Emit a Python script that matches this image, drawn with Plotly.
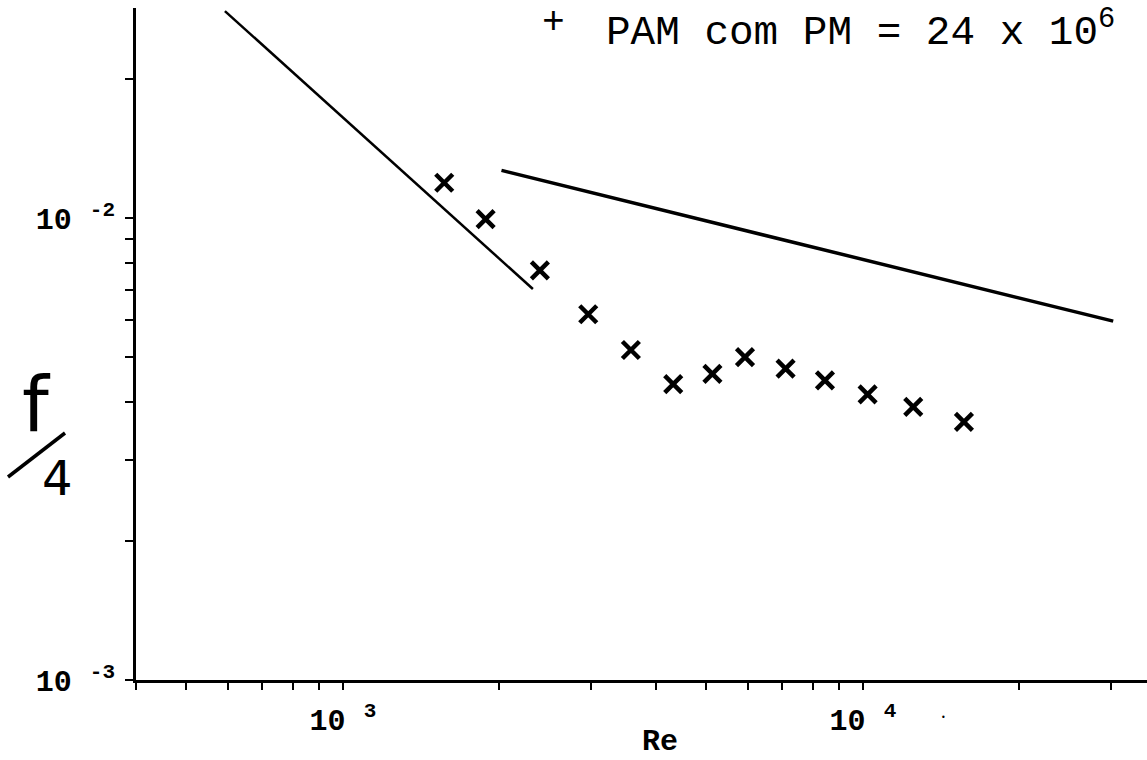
import numpy as np
import plotly.graph_objects as go

# ---- data ----
re_pts = [1566, 1881, 2392, 2963, 3579, 4317, 5135, 5932, 7100, 8452, 10210, 12495, 15640]
f4_pts = [0.01192, 0.00994, 0.00770, 0.00619, 0.00518, 0.00437, 0.00460,
          0.00500, 0.00472, 0.00445, 0.00415, 0.00390, 0.00362]

lam_re = [593, 2319]          # laminar line (f/4 = 16/Re)
lam_f4 = [0.02805, 0.00702]
turb_re = [2018, 30290]       # turbulent line
turb_f4 = [0.01268, 0.00598]

x_tickvals = [400, 500, 600, 700, 800, 900, 1000, 2000, 3000, 4000, 5000,
              6000, 7000, 8000, 9000, 10000, 20000, 30000, 40000]
x_ticktext = {1000: "<b>10 <sup>3</sup></b>", 10000: "<b>10 <sup>4</sup></b>"}
y_tickvals = [0.001, 0.002, 0.003, 0.004, 0.005, 0.006, 0.007, 0.008, 0.009, 0.01, 0.02]
y_ticktext = {0.001: "<b>10 <sup>-3</sup></b>", 0.01: "<b>10 <sup>-2</sup></b>"}

W, H = 1147, 760
L, R, T, B = 136, 0, 8, 80
pw, ph = W - L - R, H - T - B

def px(x):
    return (x - L) / pw

def py(y):
    return (H - B - y) / ph

fig = go.Figure()
fig.add_trace(go.Scatter(x=lam_re, y=lam_f4, mode="lines",
                         line=dict(color="black", width=2.5), showlegend=False))
fig.add_trace(go.Scatter(x=turb_re, y=turb_f4, mode="lines",
                         line=dict(color="black", width=3.5), showlegend=False))
fig.add_trace(go.Scatter(x=re_pts, y=f4_pts, mode="markers",
                         marker=dict(symbol="x-thin", size=17,
                                     line=dict(color="black", width=4.5)),
                         showlegend=False))

tickfont = dict(family="Liberation Mono", size=30, color="black")

fig.update_xaxes(type="log", range=[np.log10(400), np.log10(400) + pw / 520],
                 tickvals=x_tickvals,
                 ticktext=[x_ticktext.get(v, "") for v in x_tickvals],
                 ticks="outside", ticklen=7, tickwidth=2, tickcolor="black",
                 showline=True, linewidth=3, linecolor="black",
                 showgrid=False, zeroline=False, tickfont=tickfont,
                 ticklabelstandoff=4)
fig.update_yaxes(type="log", range=[-3, -3 + ph / 462],
                 tickvals=y_tickvals,
                 ticktext=[y_ticktext.get(v, "") for v in y_tickvals],
                 ticks="outside", ticklen=8, tickwidth=2, tickcolor="black",
                 showline=True, linewidth=3, linecolor="black",
                 showgrid=False, zeroline=False, tickfont=tickfont,
                 ticklabelstandoff=4)

def note(x, y, text, size, family="Liberation Mono", xanchor="center"):
    return dict(x=px(x), y=py(y), xref="paper", yref="paper", text=text,
                xanchor=xanchor, yanchor="middle", showarrow=False,
                font=dict(family=family, size=size, color="black"))

ann = [
    note(660, 742, "<b>Re</b>", 30),
    note(553, 22, "+", 38),
    note(604, 29, "PAM com PM = 24 x 10<sup>6</sup>", 41, xanchor="left"),
    note(36, 404, "f", 76, family="DejaVu Sans"),
    note(57, 478, "4", 48, family="DejaVu Sans"),
    note(943, 717, "•", 8, family="DejaVu Sans"),
]

fig.add_shape(type="line", xref="paper", yref="paper",
              x0=px(8), y0=py(477), x1=px(65), y1=py(433),
              line=dict(color="black", width=3.5))

fig.update_layout(width=W, height=H, margin=dict(l=L, r=R, t=T, b=B),
                  paper_bgcolor="white", plot_bgcolor="white",
                  annotations=ann, showlegend=False)

fig.write_html("out.html")
